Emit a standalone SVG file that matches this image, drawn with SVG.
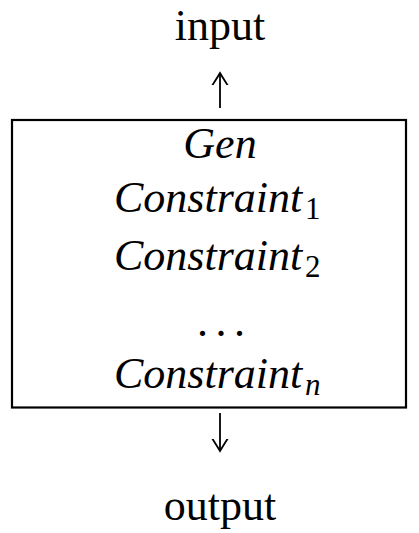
<svg xmlns="http://www.w3.org/2000/svg" width="419" height="533" viewBox="0 0 419 533">
  <style>
    .rm { font-family: "Liberation Serif", "Times New Roman", serif; font-size: 44px; fill: #000; }
    .it { font-family: "Liberation Serif", "Times New Roman", serif; font-size: 44px; font-style: italic; fill: #000; }
    .sub { font-family: "Liberation Serif", "Times New Roman", serif; font-size: 31px; fill: #000; }
    .subit { font-family: "Liberation Serif", "Times New Roman", serif; font-size: 31px; font-style: italic; fill: #000; }
    .box { fill: none; stroke: #000; stroke-width: 2.2; }
    .conn { fill: none; stroke: #000; stroke-width: 1.8; }
  </style>
  <defs>
    <marker id="tip" viewBox="-12 -12 24 24" markerWidth="24" markerHeight="24" refX="0" refY="0" orient="auto" markerUnits="userSpaceOnUse">
      <path d="M -16 -10 Q -5 -3 0 0 Q -5 3 -16 10" fill="none" stroke="#000" stroke-width="1.8"/>
    </marker>
  </defs>

  <g id="input">
    <text class="rm" x="220" y="40" text-anchor="middle">input</text>
  </g>

  <g id="stack">
    <rect class="box" x="12" y="120" width="394" height="287.5"/>
    <text class="it" x="220" y="158" text-anchor="middle">Gen</text>
    <text class="it" x="114" y="212">Constraint</text>
    <text class="sub" x="305" y="219">1</text>
    <text class="it" x="114" y="270">Constraint</text>
    <text class="sub" x="305" y="277">2</text>
    <text class="rm" x="220" y="336" text-anchor="middle" letter-spacing="-1.75">. . .</text>
    <text class="it" x="114" y="388">Constraint</text>
    <text class="subit" x="305" y="395">n</text>
  </g>

  <g id="output">
    <text class="rm" x="220" y="520" text-anchor="middle">output</text>
  </g>

  <g id="connectors">
    <path class="conn" d="M 220 108 L 220 73" marker-end="url(#tip)"/>
    <path class="conn" d="M 220 413 L 220 451" marker-end="url(#tip)"/>
  </g>
</svg>
